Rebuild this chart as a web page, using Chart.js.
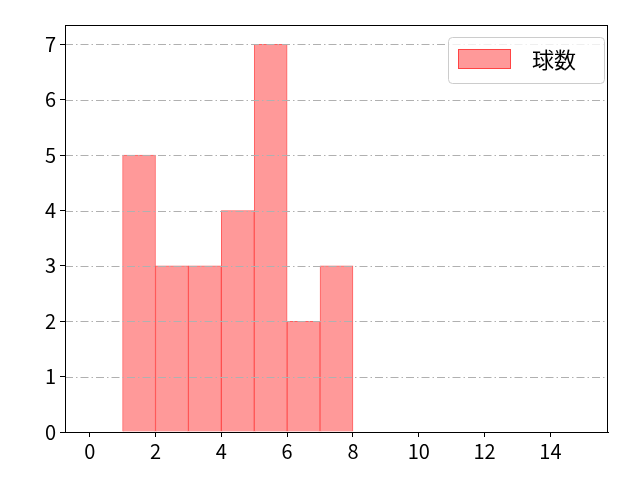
<!DOCTYPE html>
<html><head><meta charset="utf-8">
<script src="https://cdn.jsdelivr.net/npm/chart.js@4/dist/chart.umd.min.js"></script>
<style>html,body{margin:0;padding:0;background:#fff}#wrap{width:640px;height:480px}</style>
</head><body><div id="wrap"><canvas id="c" width="640" height="480"></canvas></div>
<script>
const binStarts = [1, 2, 3, 4, 5, 6, 7];
const counts = [5, 3, 3, 4, 7, 2, 3];
const seriesLabel = '球数';
const xTicks = [0, 2, 4, 6, 8, 10, 12, 14];
const yTicks = [0, 1, 2, 3, 4, 5, 6, 7];

const FONT = "'Noto Sans CJK JP', 'DejaVu Sans', sans-serif";
const fill = 'rgb(255,153,153)';
const edge = 'rgba(255,40,40,0.75)';

const frame = {
  id: 'frame',
  afterDatasetsDraw(chart) {
    const {ctx, chartArea: a, scales: {y}} = chart;
    ctx.save();
    ctx.strokeStyle = '#b0b0b0';
    ctx.lineWidth = 1;
    ctx.setLineDash([8, 3, 1.5, 3]);
    yTicks.forEach(v => {
      if (v === 0) return;
      const py = Math.round(y.getPixelForValue(v)) + 0.5;
      ctx.beginPath();
      ctx.moveTo(a.left, py);
      ctx.lineTo(a.right, py);
      ctx.stroke();
    });
    ctx.restore();
  },
  afterDraw(chart) {
    const {ctx, chartArea: a} = chart;
    ctx.save();
    ctx.strokeStyle = '#000';
    ctx.lineWidth = 1;
    ctx.strokeRect(a.left + 0.5, a.top + 0.5, a.right - a.left - 1, a.bottom - a.top);
    // legend
    const bx = a.right - 160, by = a.top + 12, bw = 156, bh = 46;
    ctx.beginPath();
    if (ctx.roundRect) ctx.roundRect(bx + 0.5, by + 0.5, bw, bh, 4); else ctx.rect(bx + 0.5, by + 0.5, bw, bh);
    ctx.fillStyle = 'rgba(255,255,255,0.8)';
    ctx.fill();
    ctx.strokeStyle = '#cccccc';
    ctx.stroke();
    ctx.fillStyle = fill;
    ctx.fillRect(bx + 10, by + 12, 53, 20);
    ctx.strokeStyle = edge;
    ctx.strokeRect(bx + 10.5, by + 12.5, 52, 19);
    ctx.fillStyle = '#000';
    ctx.font = '22px ' + FONT;
    ctx.textBaseline = 'middle';
    ctx.fillText(chart.data.datasets[0].label, bx + 84, by + 23);
    ctx.restore();
  }
};

new Chart(document.getElementById('c'), {
  type: 'bar',
  data: {
    datasets: [{
      label: seriesLabel,
      data: binStarts.map((s, i) => ({x: s + 0.5, y: counts[i]})),
      backgroundColor: fill,
      borderColor: edge,
      borderWidth: 1,
      barPercentage: 1,
      categoryPercentage: 1,
      grouped: false
    }]
  },
  options: {
    responsive: false,
    animation: false,
    devicePixelRatio: 1,
    layout: {padding: {left: 0, right: 32, top: 25, bottom: 0}},
    plugins: {legend: {display: false}, tooltip: {enabled: false}},
    scales: {
      x: {
        type: 'linear',
        offset: false,
        min: -0.75, max: 15.75,
        afterBuildTicks(s) { s.ticks = xTicks.map(v => ({value: v})); },
        afterFit(s) { s.height = 48; },
        ticks: {includeBounds: false, color: '#000', font: {size: 20, family: FONT}, padding: 2, maxRotation: 0, autoSkip: false},
        grid: {display: true, offset: false, drawOnChartArea: false, drawTicks: true, tickLength: 5, tickColor: '#000'},
        border: {color: '#000'}
      },
      y: {
        min: 0, max: 7.35,
        afterBuildTicks(s) { s.ticks = yTicks.map(v => ({value: v})); },
        afterFit(s) { s.width = 65; },
        ticks: {includeBounds: false, color: '#000', font: {size: 20, family: FONT}, padding: 4},
        grid: {display: true, drawOnChartArea: false, drawTicks: true, tickColor: '#000', tickLength: 5},
        border: {color: '#000'}
      }
    }
  },
  plugins: [frame]
});
</script></body></html>
